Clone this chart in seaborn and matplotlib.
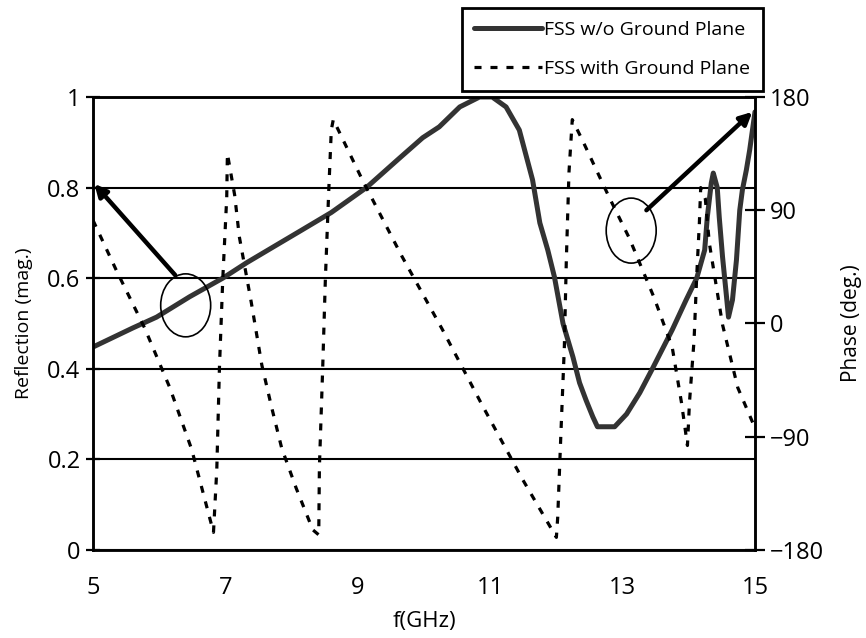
import matplotlib
matplotlib.use("Agg")
import matplotlib.pyplot as plt
from matplotlib.patches import Ellipse
import seaborn as sns
import pandas as pd

# ---- data ----
mag_freq = [5.0, 5.6, 5.96, 6.46, 6.96, 7.32, 7.77, 8.14, 8.6, 9.13, 9.63, 9.98,
            10.23, 10.54, 10.84, 11.03, 11.24, 11.44, 11.64, 11.75, 11.87, 11.97,
            12.1, 12.25, 12.35, 12.45, 12.55, 12.62, 12.88, 13.06, 13.26, 13.45,
            13.75, 13.96, 14.12, 14.24, 14.28, 14.34, 14.37, 14.43, 14.46, 14.51,
            14.57, 14.6, 14.66, 14.72, 14.77, 14.81, 14.87, 14.92, 15.0]
mag_vals = [0.448, 0.49, 0.514, 0.559, 0.60, 0.634, 0.673, 0.705, 0.745, 0.80,
            0.865, 0.91, 0.934, 0.978, 1.0, 1.0, 0.978, 0.927, 0.817, 0.722,
            0.662, 0.603, 0.50, 0.426, 0.369, 0.33, 0.294, 0.272, 0.272, 0.30,
            0.347, 0.40, 0.486, 0.552, 0.60, 0.662, 0.735, 0.81, 0.832, 0.80,
            0.735, 0.647, 0.559, 0.514, 0.552, 0.64, 0.75, 0.795, 0.839, 0.883,
            0.967]

phase_freq = [5.0, 5.35, 5.78, 6.16, 6.49, 6.82, 6.87, 6.91, 6.96, 7.02, 7.03,
              7.14, 7.21, 7.39, 7.55, 7.70, 7.85, 8.07, 8.32, 8.41, 8.42, 8.47,
              8.51, 8.56, 8.60, 8.63, 9.07, 9.66, 10.28, 10.88, 11.49, 12.0,
              12.02, 12.07, 12.12, 12.15, 12.19, 12.24, 12.39, 12.80, 13.10,
              13.48, 13.75, 13.89, 13.98, 14.01, 14.08, 14.12, 14.16, 14.18,
              14.25, 14.31, 14.51, 14.74, 15.0]
phase_vals = [82, 42.5, -3.6, -51, -100, -166, -116, -35, 35, 100, 135,
              102, 69, 17, -33, -67, -99, -131, -164, -168, -114, -35,
              35, 104, 154, 162, 114, 54, -5, -65, -124, -170,
              -154, -85, -19, 50, 120, 162, 146, 100, 68,
              20, -19, -63, -97, -63, -13, 38, 80, 108,
              99, 64, -1, -51, -83]

x_ticks = [5, 7, 9, 11, 13, 15]
mag_ticks = [0, 0.2, 0.4, 0.6, 0.8, 1]
phase_ticks = [-180, -90, 0, 90, 180]

label_mag = "FSS w/o Ground Plane"
label_phase = "FSS with Ground Plane"

# ---- styling ----
sns.set_theme(style="white")
plt.rcParams["font.family"] = ["Open Sans", "DejaVu Sans"]
plt.rcParams["axes.unicode_minus"] = True

fig = plt.figure(figsize=(8.66, 6.38), dpi=100)
ax = fig.add_axes([0.1074, 0.138, 0.7644, 0.710])
ax2 = ax.twinx()

df_mag = pd.DataFrame({"f": mag_freq, "r": mag_vals})
df_ph = pd.DataFrame({"f": phase_freq, "p": phase_vals})

sns.lineplot(data=df_mag, x="f", y="r", ax=ax, color="#333333", linewidth=3.6,
             estimator=None, sort=False, legend=False, label=label_mag,
             solid_joinstyle="round", solid_capstyle="round")
sns.lineplot(data=df_ph, x="f", y="p", ax=ax2, color="black", linewidth=2.3,
             linestyle=(0, (2.2, 2.8)), estimator=None, sort=False,
             legend=False, label=label_phase)

ax.set_xlim(5, 15)
ax.set_ylim(0, 1)
ax2.set_ylim(-180, 180)
ax.set_xticks(x_ticks)
ax.set_yticks(mag_ticks)
ax.set_yticklabels([f"{v:g}" for v in mag_ticks])
ax2.set_yticks(phase_ticks)

ax.yaxis.grid(True, color="black", linewidth=1.5)
ax.xaxis.grid(False)
ax2.grid(False)
ax.set_axisbelow(True)

for a in (ax, ax2):
    for s in a.spines.values():
        s.set_color("black")
        s.set_linewidth(1.8)
ax.spines["bottom"].set_color("#222222")

ax.tick_params(axis="x", direction="inout", length=10, width=1.6, labelsize=17,
               pad=14, colors="black")
ax.tick_params(axis="y", direction="inout", length=10, width=1.6, labelsize=17,
               pad=4, colors="black")
ax2.tick_params(axis="y", direction="inout", length=14, width=1.6, labelsize=17,
                pad=4, colors="black")

ax.set_xlabel("f(GHz)", fontsize=16, labelpad=8, color="black")
ax.set_ylabel("Reflection (mag.)", fontsize=14, labelpad=10, color="black")
ax2.set_ylabel("Phase (deg.)", fontsize=15, labelpad=12, color="black")

# annotations: circles with arrows
ax.add_patch(Ellipse((6.40, 0.540), 0.755, 0.139, fill=False, lw=1.2,
                     ec="black", zorder=5))
ax.add_patch(Ellipse((13.13, 0.705), 0.755, 0.1435, fill=False, lw=1.2,
                     ec="black", zorder=5))
ax.annotate("", xy=(5.02, 0.808), xytext=(6.24, 0.607),
            arrowprops=dict(arrowstyle="-|>", lw=3.2, color="black",
                            mutation_scale=18, shrinkA=0, shrinkB=0), zorder=6)
ax.annotate("", xy=(14.96, 0.967), xytext=(13.36, 0.75),
            arrowprops=dict(arrowstyle="-|>", lw=3.2, color="black",
                            mutation_scale=18, shrinkA=0, shrinkB=0), zorder=6)

# legend outside top right
handles = ax.get_lines()[:1] + ax2.get_lines()[:1]
labels = [label_mag, label_phase]
leg = fig.legend(handles, labels, loc="upper left",
                 bbox_to_anchor=(0.533, 0.9875), fontsize=14,
                 handlelength=3.5, handletextpad=0.1, borderpad=0.65,
                 labelspacing=1.1, frameon=True, fancybox=False,
                 framealpha=1, edgecolor="black", borderaxespad=0)
leg.get_frame().set_linewidth(2)
for t in leg.get_texts():
    t.set_color("black")

fig.savefig("out.png", dpi=100)
